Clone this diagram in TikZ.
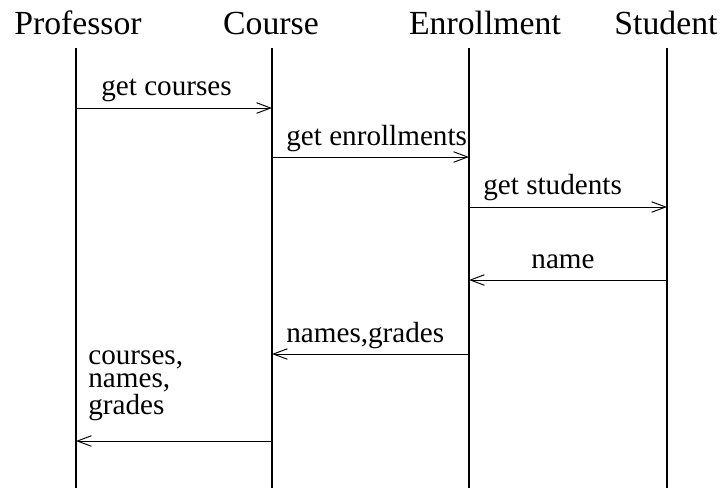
\documentclass[tikz,border=0pt]{standalone}
\usepackage{fontspec}
\setmainfont{Liberation Serif}
\usetikzlibrary{arrows.meta, positioning}
\tikzset{
  actor/.style={anchor=base, font=\fontsize{19.2}{23}\selectfont, inner sep=0pt},
  lifeline/.style={line width=1.1pt},
  msg/.style={-{Straight Barb[length=8pt, width=6pt]}, line width=0.55pt},
  msglabel/.style={anchor=base west, font=\fontsize{16.6}{13.2}\selectfont,
    inner sep=0pt, align=left}
}

\begin{document}
\begin{tikzpicture}[x=0.02cm, y=-0.02cm]
  \useasboundingbox (0,0) rectangle (725,488);

  % Objects and their lifelines
  \foreach \name/\x/\hx/\txt in {prof/76/78/Professor, course/272/271/Course,
      enrol/469/485/Enrollment, stud/667/666/Student} {
    \node[actor] (\name) at (\hx,34) {\txt};
    \coordinate (\name top) at (\x,48);
    \coordinate (\name bot) at (\x,488);
    \draw[lifeline] (\name top) -- (\name bot);
  }

  % Message ends
  \coordinate (m1a) at (76,108);  \coordinate (m1b) at (272,108);
  \coordinate (m2a) at (272,157); \coordinate (m2b) at (469,157);
  \coordinate (m3a) at (469,207); \coordinate (m3b) at (667,207);
  \coordinate (m4a) at (667,280); \coordinate (m4b) at (469,280);
  \coordinate (m5a) at (469,354); \coordinate (m5b) at (272,354);
  \coordinate (m6a) at (272,441); \coordinate (m6b) at (76,441);

  % Messages
  \draw[msg] (m1a) -- (m1b);
  \draw[msg] (m2a) -- (m2b);
  \draw[msg] (m3a) -- (m3b);
  \draw[msg] (m4a) -- (m4b);
  \draw[msg] (m5a) -- (m5b);
  \draw[msg] (m6a) -- (m6b);

  % Labels
  \node[msglabel] (l1) at (101,95) {get courses};
  \node[msglabel] (l2) at (286,145) {get enrollments};
  \node[msglabel] (l3) at (483,194) {get students};
  \node[msglabel, anchor=base] (l4) at (563,268) {name};
  \node[msglabel] (l5) at (286,342) {names,grades};
  \node[msglabel] (l6) at (88,414) {courses,\\names,\\grades};
\end{tikzpicture}
\end{document}
